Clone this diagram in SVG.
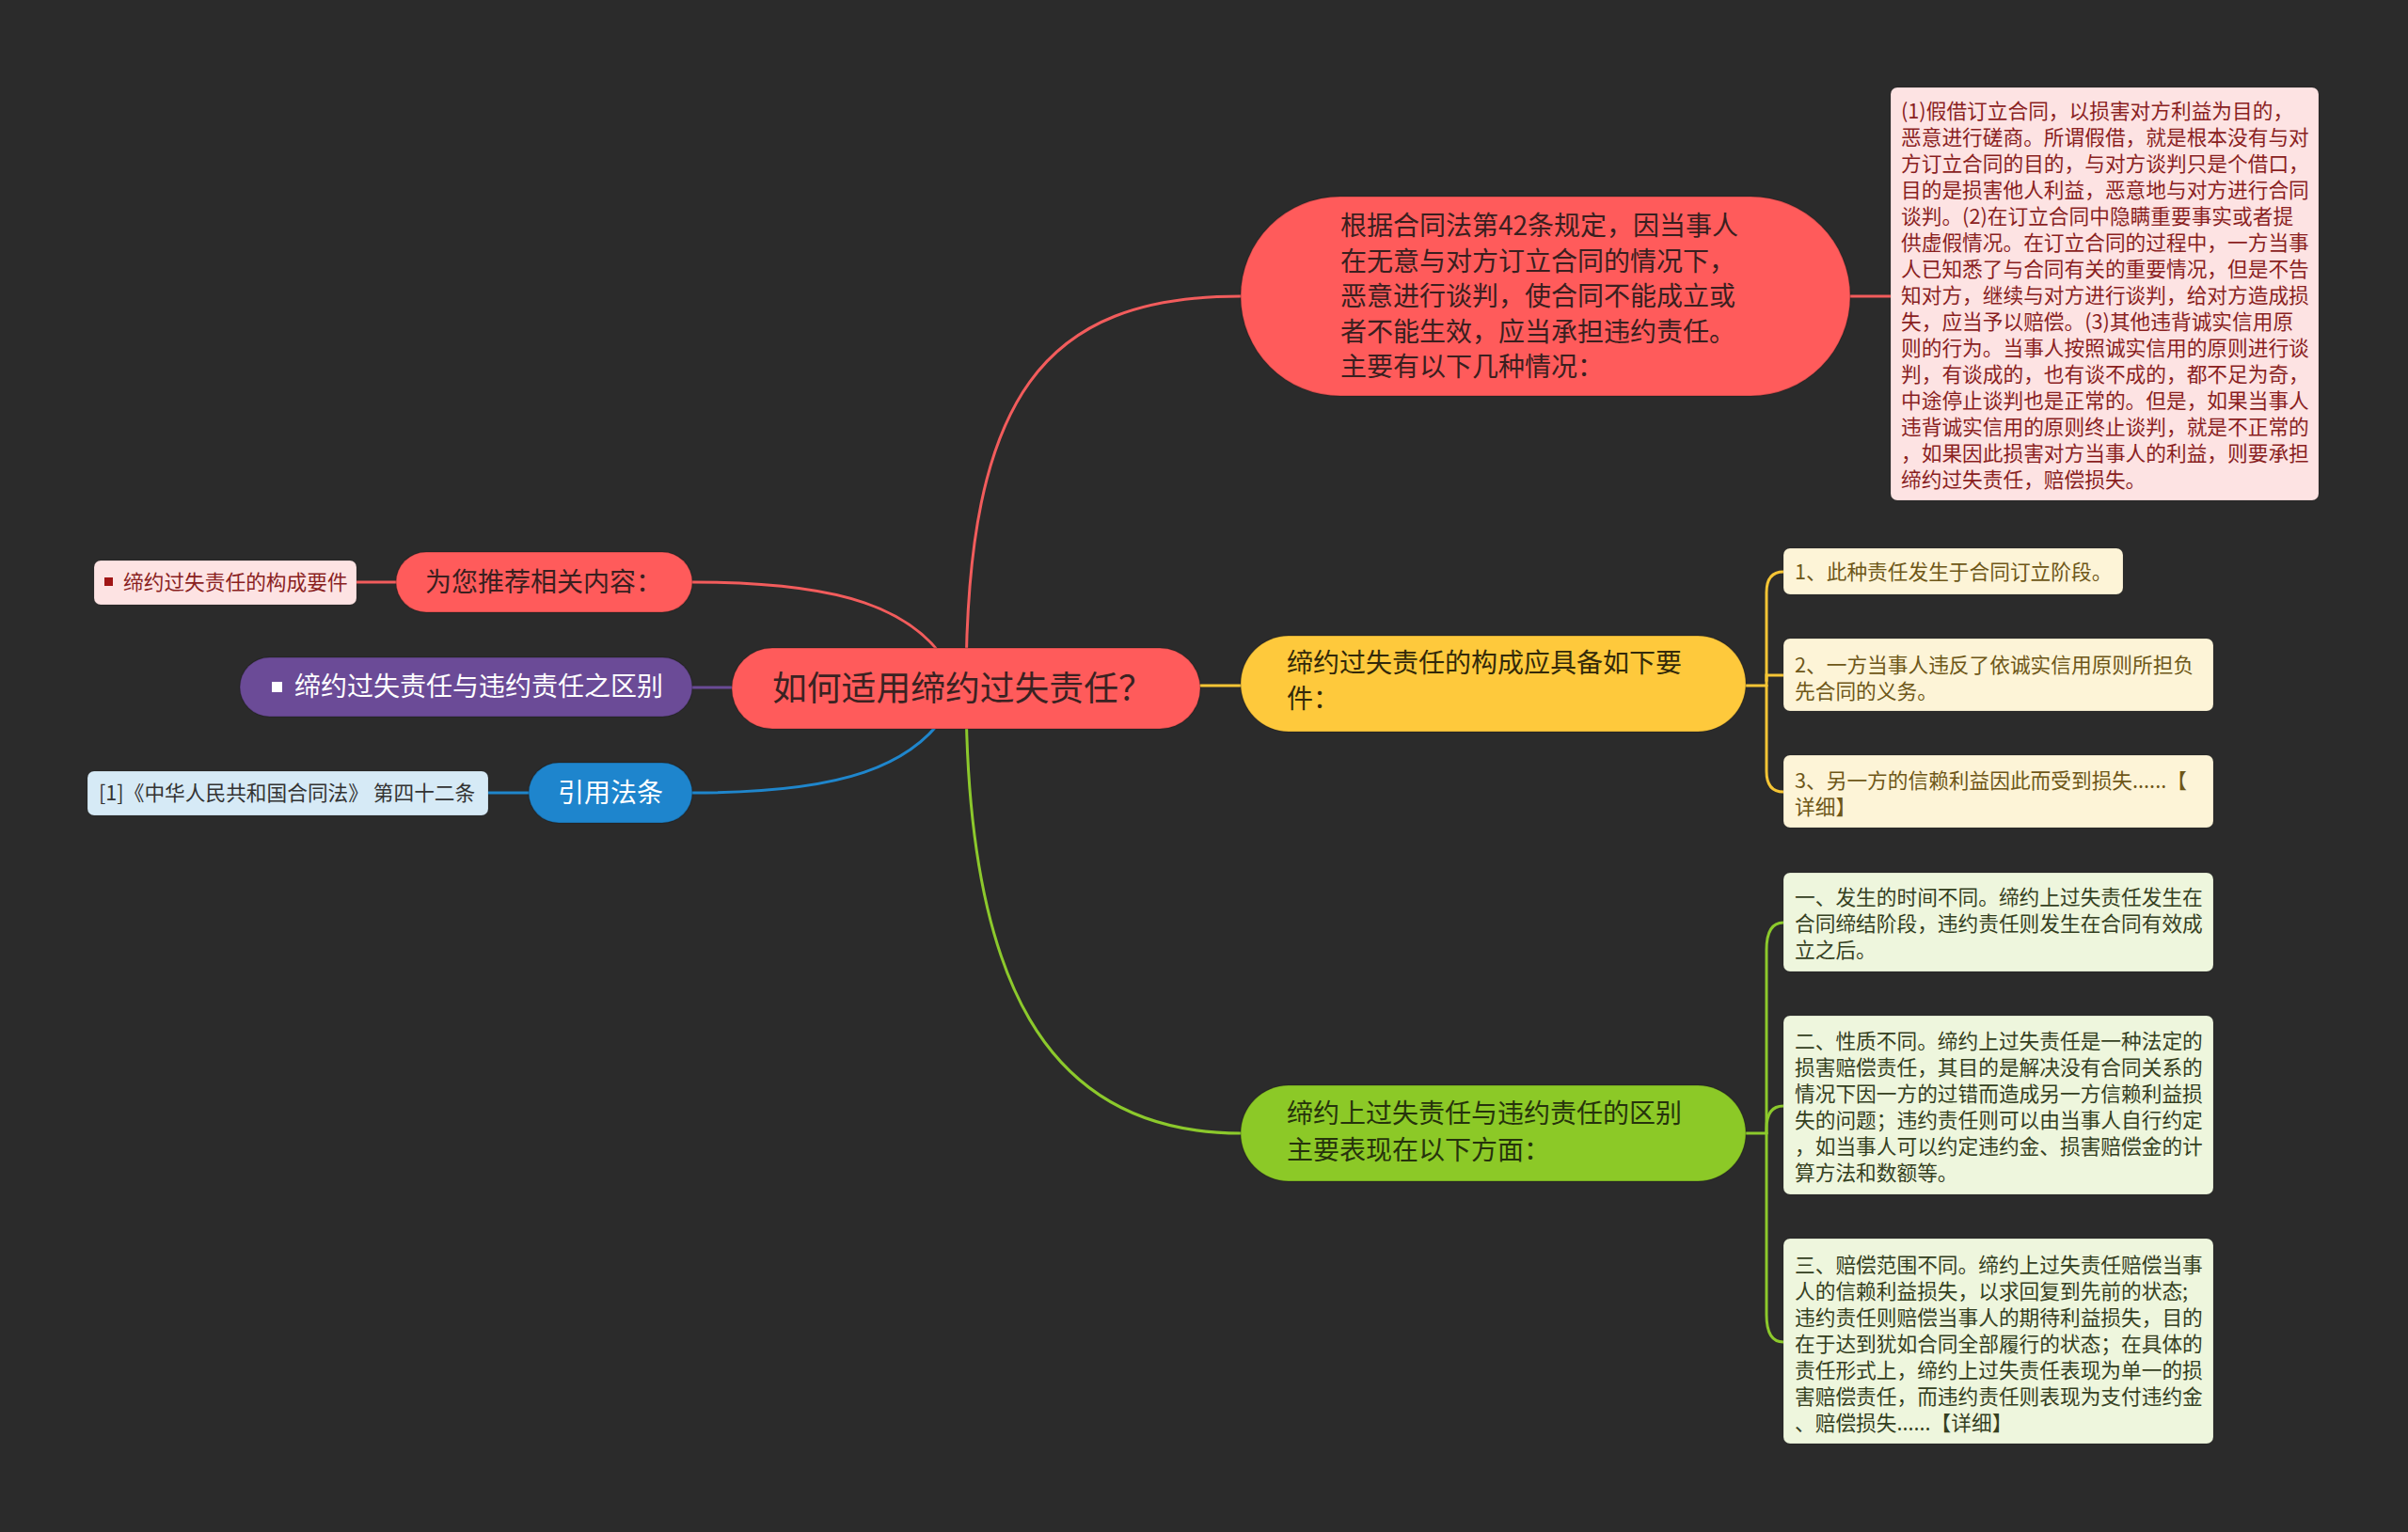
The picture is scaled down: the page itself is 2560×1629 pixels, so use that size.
<svg xmlns="http://www.w3.org/2000/svg" width="2560" height="1629" viewBox="0 0 2560 1629">
<style>
text{font-family:"Noto Sans CJK SC","Liberation Sans",sans-serif;}
.conn{fill:none;stroke-width:3;stroke-linecap:round;}
.t36{font-size:36.8px;fill:#3a2222;}
.t28{font-size:28px;}
.t22{font-size:21.7px;}
.node{stroke:rgba(0,0,0,0.18);stroke-width:1.5;}
.leaf{stroke:rgba(0,0,0,0.12);stroke-width:1;}
</style>
<rect width="2560" height="1629" fill="#2b2b2b"/>

<g id="connectors">
  <path class="conn" stroke="#f25c5c" d="M1027,731 C1027,420 1110,315 1319,315"/>
  <path class="conn" stroke="#f5c535" d="M1276,729 L1319,729"/>
  <path class="conn" stroke="#8cc92c" d="M1027,731 C1027,1040 1110,1205 1319,1205"/>
  <path class="conn" stroke="#f25c5c" d="M1020,731 C985,640 880,619 736,619"/>
  <path class="conn" stroke="#6a4b96" d="M778,731 L736,731"/>
  <path class="conn" stroke="#1f86cc" d="M1020,731 C985,822 880,843 736,843"/>
  <path class="conn" stroke="#f25c5c" d="M1967,315 L2010,315"/>
  <path class="conn" stroke="#f25c5c" d="M379,619 L421,619"/>
  <path class="conn" stroke="#1f86cc" d="M519,843 L562,843"/>
  <path class="conn" stroke="#f5c535" d="M1856,729 L1878,729"/>
  <path class="conn" stroke="#f5c535" d="M1878,729 L1878,630 Q1878,608 1896,608"/>
  <path class="conn" stroke="#f5c535" d="M1878,724 L1878,718 L1896,718"/>
  <path class="conn" stroke="#f5c535" d="M1878,729 L1878,820 Q1878,842 1896,842"/>
  <path class="conn" stroke="#8cc92c" d="M1856,1205 L1878,1205"/>
  <path class="conn" stroke="#8cc92c" d="M1878,1205 L1878,1010 Q1878,981 1896,981"/>
  <path class="conn" stroke="#8cc92c" d="M1878,1205 L1878,1200 Q1878,1176 1896,1176"/>
  <path class="conn" stroke="#8cc92c" d="M1878,1205 L1878,1398 Q1878,1427 1896,1427"/>
</g>

<g id="root">
  <rect class="node" x="778" y="689" width="498" height="86" rx="43" fill="#ff5b5b"/>
  <text class="t36" x="821" y="745">如何适用缔约过失责任？</text>
</g>

<g id="node-main-red">
  <rect class="node" x="1319" y="209" width="648" height="212" rx="106" fill="#ff5b5b"/>
  <text class="t28" fill="#3a1f1f">
    <tspan x="1425" y="250">根据合同法第42条规定，因当事人</tspan>
    <tspan x="1425" y="288">在无意与对方订立合同的情况下，</tspan>
    <tspan x="1425" y="325">恶意进行谈判，使合同不能成立或</tspan>
    <tspan x="1425" y="363">者不能生效，应当承担违约责任。</tspan>
    <tspan x="1425" y="400">主要有以下几种情况：</tspan>
  </text>
</g>

<g id="leaf-red-detail">
  <rect class="leaf" x="2010" y="93" width="455" height="439" rx="7" fill="#fde3e3"/>
  <text class="t22" fill="#8a1f1f">
    <tspan x="2021" y="126">(1)假借订立合同，以损害对方利益为目的，</tspan>
    <tspan x="2021" y="154">恶意进行磋商。所谓假借，就是根本没有与对</tspan>
    <tspan x="2021" y="182">方订立合同的目的，与对方谈判只是个借口，</tspan>
    <tspan x="2021" y="210">目的是损害他人利益，恶意地与对方进行合同</tspan>
    <tspan x="2021" y="238">谈判。(2)在订立合同中隐瞒重要事实或者提</tspan>
    <tspan x="2021" y="266">供虚假情况。在订立合同的过程中，一方当事</tspan>
    <tspan x="2021" y="294">人已知悉了与合同有关的重要情况，但是不告</tspan>
    <tspan x="2021" y="322">知对方，继续与对方进行谈判，给对方造成损</tspan>
    <tspan x="2021" y="350">失，应当予以赔偿。(3)其他违背诚实信用原</tspan>
    <tspan x="2021" y="378">则的行为。当事人按照诚实信用的原则进行谈</tspan>
    <tspan x="2021" y="406">判，有谈成的，也有谈不成的，都不足为奇，</tspan>
    <tspan x="2021" y="434">中途停止谈判也是正常的。但是，如果当事人</tspan>
    <tspan x="2021" y="462">违背诚实信用的原则终止谈判，就是不正常的</tspan>
    <tspan x="2021" y="490">，如果因此损害对方当事人的利益，则要承担</tspan>
    <tspan x="2021" y="518">缔约过失责任，赔偿损失。</tspan>
  </text>
</g>

<g id="node-yellow">
  <rect class="node" x="1319" y="676" width="537" height="102" rx="51" fill="#fec93c"/>
  <text class="t28" fill="#33290a">
    <tspan x="1368" y="715">缔约过失责任的构成应具备如下要</tspan>
    <tspan x="1368" y="753">件：</tspan>
  </text>
</g>

<g id="leaf-yellow-1">
  <rect class="leaf" x="1896" y="583" width="361" height="49" rx="7" fill="#fdf4d7"/>
  <text class="t22" fill="#6e5718"><tspan x="1908" y="616">1、此种责任发生于合同订立阶段。</tspan></text>
</g>
<g id="leaf-yellow-2">
  <rect class="leaf" x="1896" y="679" width="457" height="77" rx="7" fill="#fdf4d7"/>
  <text class="t22" fill="#6e5718">
    <tspan x="1908" y="715">2、一方当事人违反了依诚实信用原则所担负</tspan>
    <tspan x="1908" y="743">先合同的义务。</tspan>
  </text>
</g>
<g id="leaf-yellow-3">
  <rect class="leaf" x="1896" y="803" width="457" height="77" rx="7" fill="#fdf4d7"/>
  <text class="t22" fill="#6e5718">
    <tspan x="1908" y="838">3、另一方的信赖利益因此而受到损失......【</tspan>
    <tspan x="1908" y="866">详细】</tspan>
  </text>
</g>

<g id="node-green">
  <rect class="node" x="1319" y="1154" width="537" height="102" rx="51" fill="#8cc927"/>
  <text class="t28" fill="#26330c">
    <tspan x="1368" y="1194">缔约上过失责任与违约责任的区别</tspan>
    <tspan x="1368" y="1233">主要表现在以下方面：</tspan>
  </text>
</g>

<g id="leaf-green-1">
  <rect class="leaf" x="1896" y="928" width="457" height="105" rx="7" fill="#eef6dd"/>
  <text class="t22" fill="#35401f">
    <tspan x="1908" y="962">一、发生的时间不同。缔约上过失责任发生在</tspan>
    <tspan x="1908" y="990">合同缔结阶段，违约责任则发生在合同有效成</tspan>
    <tspan x="1908" y="1018">立之后。</tspan>
  </text>
</g>
<g id="leaf-green-2">
  <rect class="leaf" x="1896" y="1080" width="457" height="190" rx="7" fill="#eef6dd"/>
  <text class="t22" fill="#35401f">
    <tspan x="1908" y="1115">二、性质不同。缔约上过失责任是一种法定的</tspan>
    <tspan x="1908" y="1143">损害赔偿责任，其目的是解决没有合同关系的</tspan>
    <tspan x="1908" y="1171">情况下因一方的过错而造成另一方信赖利益损</tspan>
    <tspan x="1908" y="1199">失的问题；违约责任则可以由当事人自行约定</tspan>
    <tspan x="1908" y="1227">，如当事人可以约定违约金、损害赔偿金的计</tspan>
    <tspan x="1908" y="1255">算方法和数额等。</tspan>
  </text>
</g>
<g id="leaf-green-3">
  <rect class="leaf" x="1896" y="1317" width="457" height="218" rx="7" fill="#eef6dd"/>
  <text class="t22" fill="#35401f">
    <tspan x="1908" y="1353">三、赔偿范围不同。缔约上过失责任赔偿当事</tspan>
    <tspan x="1908" y="1381">人的信赖利益损失，以求回复到先前的状态;</tspan>
    <tspan x="1908" y="1409">违约责任则赔偿当事人的期待利益损失，目的</tspan>
    <tspan x="1908" y="1437">在于达到犹如合同全部履行的状态；在具体的</tspan>
    <tspan x="1908" y="1465">责任形式上，缔约上过失责任表现为单一的损</tspan>
    <tspan x="1908" y="1493">害赔偿责任，而违约责任则表现为支付违约金</tspan>
    <tspan x="1908" y="1521">、赔偿损失......【详细】</tspan>
  </text>
</g>

<g id="node-recommend">
  <rect class="node" x="421" y="587" width="315" height="64" rx="32" fill="#ff5b5b"/>
  <text class="t28" fill="#3a1f1f" x="452" y="629">为您推荐相关内容：</text>
</g>
<g id="leaf-recommend">
  <rect class="leaf" x="100" y="596" width="279" height="47" rx="7" fill="#fde3e3"/>
  <rect x="111" y="614" width="9" height="9" fill="#a01515"/>
  <text class="t22" fill="#8a1f1f" x="131" y="627">缔约过失责任的构成要件</text>
</g>

<g id="node-purple">
  <rect class="node" x="255" y="699" width="481" height="63" rx="31.5" fill="#6b4b97"/>
  <rect x="289" y="725" width="11" height="11" fill="#ffffff"/>
  <text class="t28" fill="#ffffff" x="313" y="740">缔约过失责任与违约责任之区别</text>
</g>

<g id="node-blue">
  <rect class="node" x="562" y="811" width="174" height="64" rx="32" fill="#1e85cd"/>
  <text class="t28" fill="#ffffff" x="593" y="853">引用法条</text>
</g>
<g id="leaf-blue">
  <rect class="leaf" x="93" y="820" width="426" height="47" rx="7" fill="#d6eaf6"/>
  <text class="t22" fill="#333333" x="105" y="851">[1]《中华人民共和国合同法》 第四十二条</text>
</g>
</svg>
